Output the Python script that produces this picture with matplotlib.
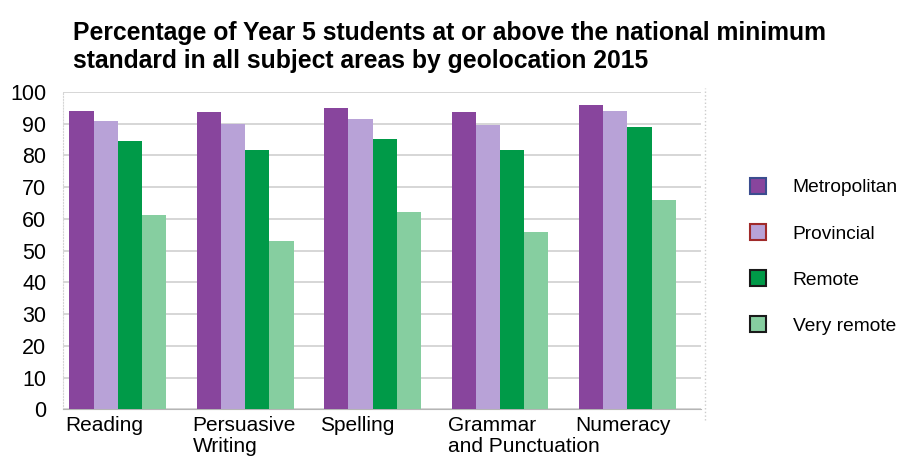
import numpy as np
import matplotlib
matplotlib.use('Agg')
import matplotlib.pyplot as plt
import matplotlib.transforms as mtrans
from matplotlib.lines import Line2D

plt.rcParams['font.family'] = ['Liberation Sans', 'DejaVu Sans']

# data
subjects = ['Reading', 'Persuasive', 'Spelling', 'Grammar', 'Numeracy']
subjects_line2 = ['', 'Writing', '', 'and Punctuation', '']
groups = ['Metropolitan', 'Provincial', 'Remote', 'Very remote']
metropolitan = [94, 93.6, 94.8, 93.6, 96]
provincial = [91, 90, 91.5, 89.7, 94]
remote = [84.5, 81.7, 85.3, 81.8, 89]
very_remote = [61.2, 53, 62.3, 55.8, 65.8]

colors = ['#88459d', '#b8a2d7', '#009a48', '#86cea0']
edges = ['#3b4d8f', '#a02a2a', '#1a1a1a', '#1a1a1a']

series = [metropolitan, provincial, remote, very_remote]

fig = plt.figure(figsize=(9.12, 4.62), dpi=100)
ax = fig.add_axes([0.069, 0.114, 0.70, 0.687])

x = np.arange(len(subjects))
w = 0.19
for i, vals in enumerate(series):
    ax.bar(x + (i - 1.5) * w, vals, width=w, color=colors[i], zorder=3)

ax.set_ylim(0, 100)
ax.set_xlim(-0.43, 4.58)
ax.set_yticks(range(0, 101, 10))
ax.tick_params(axis='y', labelsize=15.5, length=0, pad=12)
ax.yaxis.grid(True, color='#cfcfcf', lw=1.2, zorder=0)

# two-line category labels: first line on major ticks, second on minor ticks
ax.set_xticks(x - 2 * w)
ax.set_xticklabels(subjects, fontsize=15, ha='left')
ax.set_xticks(x - 2 * w + 1e-3, minor=True)
ax.set_xticklabels(subjects_line2, minor=True, fontsize=15, ha='left')
ax.tick_params(axis='x', which='major', length=0, pad=5)
ax.tick_params(axis='x', which='minor', length=0, pad=20)
shift = mtrans.ScaledTranslation(-4 / 100, 0, fig.dpi_scale_trans)
for lab in ax.get_xticklabels() + ax.get_xticklabels(minor=True):
    lab.set_transform(lab.get_transform() + shift)

for s in ['top', 'right']:
    ax.spines[s].set_visible(False)
ax.spines['left'].set_color('#d5d5d5')
ax.spines['left'].set_linestyle(':')
ax.spines['bottom'].set_color('#b5b5b5')

# dotted frame line on the right
fig.add_artist(Line2D([0.773, 0.773], [0.09, 0.81], color='#cccccc', lw=1, ls=':'))

# title
fig.text(0.08, 0.955, 'Percentage of Year 5 students at or above the national minimum\n'
         'standard in all subject areas by geolocation 2015',
         fontsize=17.8, fontweight='bold', va='top', ha='left', linespacing=1.22)

handles = [Line2D([0], [0], marker='s', ls='', markersize=11, markerfacecolor=colors[i],
                  markeredgecolor=edges[i], markeredgewidth=1.5) for i in range(4)]
fig.legend(handles, groups, loc='upper left', bbox_to_anchor=(0.8, 0.65), frameon=False,
           fontsize=13.8, labelspacing=1.5, handletextpad=1.2, handlelength=1.2)

fig.savefig('out.png', dpi=100)
